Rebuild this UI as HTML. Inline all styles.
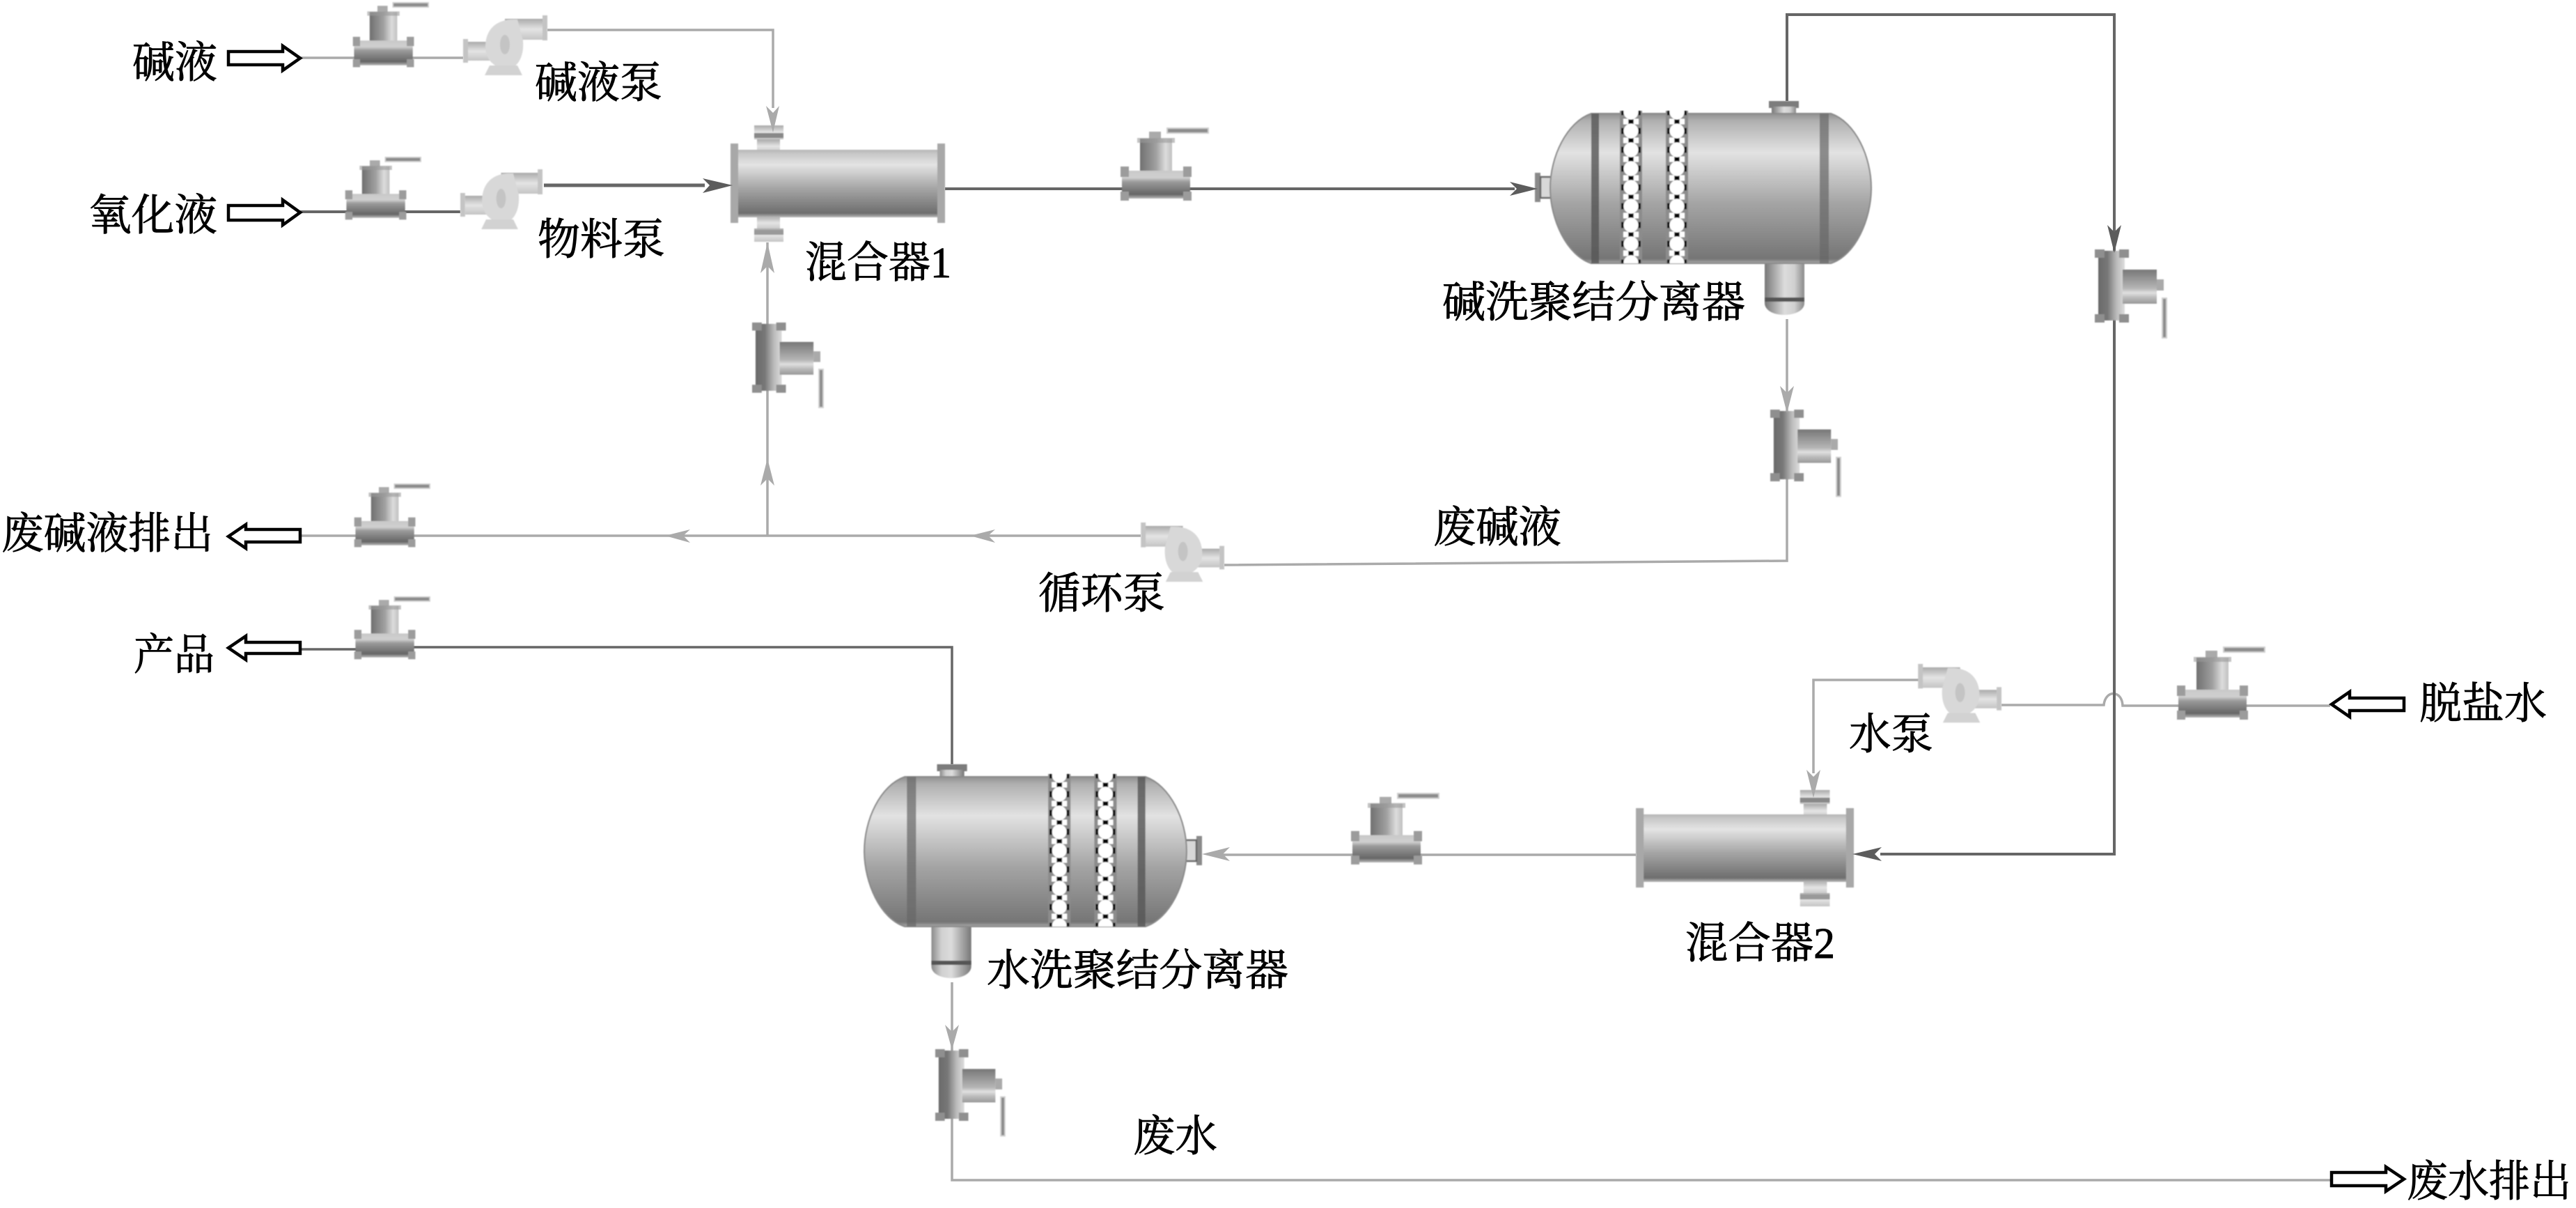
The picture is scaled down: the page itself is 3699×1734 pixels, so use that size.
<!DOCTYPE html>
<html><head><meta charset="utf-8"><style>
html,body{margin:0;padding:0;background:#fff}
svg{display:block}
text{font-family:"Liberation Serif","Noto Serif CJK SC",serif;font-size:62px;fill:#000;stroke:#000;stroke-width:.9}
</style></head><body>
<svg xmlns="http://www.w3.org/2000/svg" width="3699" height="1734" viewBox="0 0 3699 1734">
<defs>
<filter id="soft" x="-5%" y="-5%" width="110%" height="110%"><feGaussianBlur stdDeviation=".8"/></filter>
<linearGradient id="mx" x1="0" y1="0" x2="0" y2="1"><stop offset="0" stop-color="#b5b5b5"/><stop offset=".06" stop-color="#c8c8c8"/><stop offset=".22" stop-color="#e4e4e4"/><stop offset=".55" stop-color="#a8a8a8"/><stop offset=".94" stop-color="#6e6e6e"/><stop offset="1" stop-color="#bbb"/></linearGradient>
<linearGradient id="sp" x1="0" y1="0" x2="0" y2="1"><stop offset="0" stop-color="#909090"/><stop offset=".05" stop-color="#b0b0b0"/><stop offset=".26" stop-color="#e2e2e2"/><stop offset=".6" stop-color="#a4a4a4"/><stop offset=".97" stop-color="#757575"/><stop offset="1" stop-color="#aaa"/></linearGradient>
<linearGradient id="hb" x1="0" y1="0" x2="1" y2="0"><stop offset="0" stop-color="#777"/><stop offset=".5" stop-color="#dcdcdc"/><stop offset=".75" stop-color="#d0d0d0"/><stop offset="1" stop-color="#8a8a8a"/></linearGradient>
<linearGradient id="stem" x1="0" y1="0" x2="1" y2="0"><stop offset="0" stop-color="#707070"/><stop offset=".5" stop-color="#a0a0a0"/><stop offset=".8" stop-color="#dcdcdc"/><stop offset="1" stop-color="#c0c0c0"/></linearGradient>
<linearGradient id="vb" x1="0" y1="0" x2="0" y2="1"><stop offset="0" stop-color="#c8c8c8"/><stop offset=".25" stop-color="#d0d0d0"/><stop offset=".4" stop-color="#9a9a9a"/><stop offset=".85" stop-color="#666"/><stop offset="1" stop-color="#bbb"/></linearGradient>
<linearGradient id="vt" x1="0" y1="0" x2="1" y2="0"><stop offset="0" stop-color="#6a6a6a"/><stop offset=".35" stop-color="#777"/><stop offset=".7" stop-color="#bbb"/><stop offset="1" stop-color="#ddd"/></linearGradient>
<linearGradient id="vc" x1="0" y1="0" x2="0" y2="1"><stop offset="0" stop-color="#777"/><stop offset=".55" stop-color="#b5b5b5"/><stop offset=".68" stop-color="#e0e0e0"/><stop offset=".82" stop-color="#bbb"/><stop offset="1" stop-color="#999"/></linearGradient>
<linearGradient id="pp" x1="0" y1="0" x2="0" y2="1"><stop offset="0" stop-color="#aaa"/><stop offset=".5" stop-color="#e4e4e4"/><stop offset="1" stop-color="#c4c4c4"/></linearGradient>
<pattern id="lat" patternUnits="userSpaceOnUse" x="122" y="2.5" width="32" height="27">
<rect width="32" height="27" fill="#8c8c8c"/>
<rect x="5" y="-4" width="7" height="8" fill="#fff"/><rect x="20" y="-4" width="7" height="8" fill="#fff"/>
<rect x="5" y="23" width="7" height="8" fill="#fff"/><rect x="20" y="23" width="7" height="8" fill="#fff"/>
<circle cx="16" cy="13.5" r="10.5" fill="#fff"/>
<rect x="2" y="9" width="3.5" height="9" fill="#000"/><rect x="26.5" y="9" width="3.5" height="9" fill="#000"/>
<rect x="12.5" y="-3" width="7" height="6" fill="#000"/><rect x="12.5" y="24" width="7" height="6" fill="#000"/>
</pattern>
<g id="valve">
<rect x="69" y="1" width="59" height="7" fill="#8c8c8c" stroke="#d0d0d0" stroke-width="2"/>
<rect x="43" y="6" width="17" height="12" fill="#aaa"/>
<rect x="30" y="16" width="46" height="50" fill="url(#stem)"/>
<rect x="26" y="15" width="54" height="7" fill="#999" opacity=".6"/>
<rect x="4" y="62" width="98" height="40" fill="url(#vb)"/>
<g fill="#9c9c9c"><rect x="2" y="56" width="12" height="15"/><rect x="92" y="56" width="12" height="15"/><rect x="2" y="92" width="12" height="13"/><rect x="92" y="92" width="12" height="13"/></g>
</g>
<g id="vvalve">
<rect x="6" y="3" width="38" height="100" fill="url(#vt)"/>
<rect x="41" y="30" width="49" height="49" fill="url(#vc)"/>
<rect x="90" y="44" width="10" height="16" fill="#aaa"/>
<rect x="98" y="71" width="6" height="57" fill="#8c8c8c" stroke="#d0d0d0" stroke-width="2"/>
<g fill="#8f8f8f"><rect x="1" y="1" width="14" height="12"/><rect x="36" y="1" width="14" height="12"/><rect x="1" y="94" width="14" height="12"/><rect x="36" y="94" width="14" height="12"/></g>
</g>
<g id="pump">
<rect x="0" y="34" width="7" height="34" fill="#c4c4c4"/>
<rect x="7" y="38" width="32" height="27" fill="url(#pp)"/>
<rect x="60" y="5" width="55" height="30" fill="url(#pp)"/>
<rect x="114" y="0" width="7" height="36" fill="#c4c4c4"/>
<path d="M32 45C32 20 48 6 72 6L78 6 86 36C88 60 78 76 62 78 42 74 32 62 32 45Z" fill="#d8d8d8"/>
<ellipse cx="60" cy="42" rx="7" ry="14" fill="#c4c4c4"/>
<path d="M38 72L78 72 85 86 31 86Z" fill="#d2d2d2"/>
</g>
<g id="mixer">
<rect x="38" y="20" width="33" height="20" fill="url(#pp)"/>
<rect x="34" y="0" width="42" height="20" fill="url(#pp)"/><rect x="34" y="11" width="42" height="7" fill="#888"/>
<rect x="38" y="130" width="33" height="20" fill="url(#pp)"/>
<rect x="34" y="148" width="42" height="19" fill="url(#pp)"/><rect x="34" y="150" width="42" height="7" fill="#999"/>
<rect x="8" y="35" width="292" height="97" fill="url(#mx)"/>
<rect x="0" y="26" width="11" height="114" fill="#a8a8a8"/>
<rect x="297" y="26" width="11" height="114" fill="#a8a8a8"/>
</g>
<g id="sep">
<rect x="336" y="0" width="43" height="10" fill="#7c7c7c"/><rect x="340" y="8" width="35" height="12" fill="url(#hb)"/>
<rect x="0" y="103" width="8" height="42" fill="#8a8a8a"/><rect x="8" y="109" width="16" height="30" fill="#d8d8d8" stroke="#666" stroke-width="2.5"/>
<path d="M330 228H387V290C387 300 375 307 358 307 342 307 330 300 330 290Z" fill="url(#hb)"/>
<rect x="330" y="282" width="57" height="6" fill="#555"/>
<path d="M81 18L425 18C460 30 483 80 483 125 483 170 460 222 425 233L81 233C46 222 22 170 22 125 22 80 46 30 81 18Z" fill="url(#sp)" stroke="#8a8a8a" stroke-width="2"/>
<rect x="81" y="18" width="11" height="215" fill="#555" opacity=".8"/>
<rect x="409" y="18" width="13" height="215" fill="#666" opacity=".7"/>
<rect x="122" y="14" width="32" height="219" fill="url(#lat)"/>
<g transform="translate(66 0)"><rect x="122" y="14" width="32" height="219" fill="url(#lat)"/></g>
</g>
</defs>

<g fill="none" stroke="#aaa" stroke-width="3.5">
<path d="M431 83H665"/>
<path d="M786 43H1110V155"/>
<path d="M1102 348V769"/>
<path d="M1638 769H431"/>
<path d="M2566 458V805L1758 811"/>
<path d="M3346 1013H3048C3047 990 3023 990 3021 1012H2874"/>
<path d="M2755 976H2604V1110"/>
<path d="M2349 1227H1740"/>
<path d="M1367 1410V1694H3350"/>
</g>
<g fill="none" stroke="#666" stroke-width="4">
<path d="M431 304H661"/>
<path d="M781 266H1012" stroke-width="5"/>
<path d="M1357 271H2175"/>
<path d="M2566 145V21H3036V1226H2700"/>
<path d="M431 932H520M590 929H1367V1097" stroke-width="3.5"/>
</g>

<g filter="url(#soft)">
<use href="#valve" transform="translate(505 3) scale(.86 .89)"/>
<use href="#valve" transform="translate(494 225) scale(.86 .86)"/>
<use href="#valve" transform="translate(507 694) scale(.86 .87)"/>
<use href="#valve" transform="translate(507 856) scale(.86 .86)"/>
<use href="#valve" transform="translate(1607 183)"/>
<use href="#valve" transform="translate(1938 1138) scale(1 .98)"/>
<use href="#valve" transform="translate(3124 928)"/>
<use href="#vvalve" transform="translate(1079 462) scale(.99 .96)"/>
<use href="#vvalve" transform="translate(2541 587) scale(.98 .98)"/>
<use href="#vvalve" transform="translate(3007 357)"/>
<use href="#vvalve" transform="translate(1342 1505) scale(.97 .98)"/>

<use href="#pump" transform="translate(665 22)"/>
<use href="#pump" transform="translate(661 243) scale(.975 1)"/>
<use href="#pump" transform="translate(2874 953) scale(-.99 .98)"/>
<use href="#pump" transform="translate(1758 750) scale(-.99 .99)"/>

<use href="#mixer" transform="translate(1049 180)"/>
<use href="#mixer" transform="translate(2662 1134) scale(-1.016 1)"/>

<use href="#sep" transform="translate(2204 145)"/>
<use href="#sep" transform="translate(1726 1097) scale(-1.004 1)"/>
</g>

<g fill="#aaa">
<path d="M1110 190L1100 152 1110 162 1119 152Z"/>
<path d="M1102 348L1092 392 1102 382 1112 392Z"/>
<path d="M1102 658L1092 697 1102 687 1112 697Z"/>
<path d="M1393 769L1429 760 1419 769 1429 779Z"/>
<path d="M955 769L991 760 981 769 991 779Z"/>
<path d="M2566 593L2556 554 2566 564 2576 554Z"/>
<path d="M2604 1145L2594 1105 2604 1115 2614 1105Z"/>
<path d="M1726 1226L1766 1216 1756 1226 1766 1236Z"/>
<path d="M1367 1507L1357 1471 1367 1481 1377 1471Z"/>
</g>
<g fill="#5c5c5c">
<path d="M1052 266L1009 256 1019 266 1009 277Z"/>
<path d="M2208 271L2168 261 2178 271 2168 281Z"/>
<path d="M3036 363L3026 323 3036 333 3046 323Z"/>
<path d="M2660 1226L2702 1216 2692 1226 2702 1236Z"/>
</g>

<g fill="#fff" stroke="#000" stroke-width="4.5" stroke-linejoin="miter">
<path d="M328 74H406V66L431 83.5 406 101V93H328Z"/>
<path d="M328 295H406V287L431 305 406 323V316H328Z"/>
<path d="M431 760H353V753L328 770 353 787V778H431Z"/>
<path d="M431 922H353V913L328 930 353 947V938H431Z"/>
<path d="M3452 1002H3374V993L3348 1011 3374 1029V1020H3452Z"/>
<path d="M3348 1683H3426V1675L3452 1692.5 3426 1710V1702H3348Z"/>
</g>

<text x="190" y="111" textLength="122" lengthAdjust="spacingAndGlyphs">碱液</text>
<text x="768" y="140" textLength="183" lengthAdjust="spacingAndGlyphs">碱液泵</text>
<text x="127" y="330" textLength="185" lengthAdjust="spacingAndGlyphs">氧化液</text>
<text x="772" y="365" textLength="183" lengthAdjust="spacingAndGlyphs">物料泵</text>
<text x="1156" y="398" textLength="210" lengthAdjust="spacingAndGlyphs">混合器1</text>
<text x="2" y="787" textLength="304" lengthAdjust="spacingAndGlyphs">废碱液排出</text>
<text x="192" y="961" textLength="116" lengthAdjust="spacingAndGlyphs">产品</text>
<text x="1491" y="873" textLength="182" lengthAdjust="spacingAndGlyphs">循环泵</text>
<text x="2058" y="778" textLength="184" lengthAdjust="spacingAndGlyphs">废碱液</text>
<text x="2071" y="455" textLength="435" lengthAdjust="spacingAndGlyphs">碱洗聚结分离器</text>
<text x="1417" y="1414" textLength="433" lengthAdjust="spacingAndGlyphs">水洗聚结分离器</text>
<text x="1627" y="1652" textLength="121" lengthAdjust="spacingAndGlyphs">废水</text>
<text x="2655" y="1075" textLength="121" lengthAdjust="spacingAndGlyphs">水泵</text>
<text x="3474" y="1031" textLength="183" lengthAdjust="spacingAndGlyphs">脱盐水</text>
<text x="2420" y="1375" textLength="215" lengthAdjust="spacingAndGlyphs">混合器2</text>
<text x="3456" y="1717" textLength="236" lengthAdjust="spacingAndGlyphs">废水排出</text>
</svg>
</body></html>
